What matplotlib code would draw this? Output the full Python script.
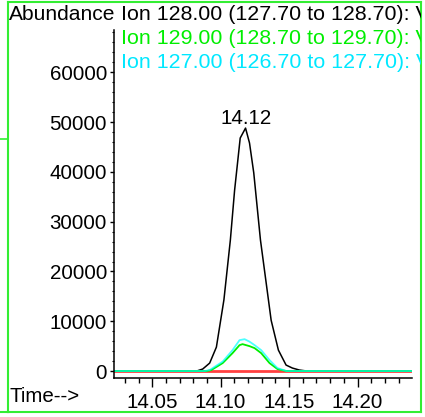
import matplotlib.pyplot as plt
from matplotlib.ticker import MultipleLocator
from matplotlib.lines import Line2D

plt.rcParams['font.family'] = ['Liberation Sans', 'DejaVu Sans']

# extracted ion chromatograms (time in min, abundance)
t_128 = [14.0221, 14.0825, 14.0869, 14.0920, 14.0969, 14.1024, 14.1071, 14.1102,
         14.1143, 14.1182, 14.1211, 14.1242, 14.1291, 14.1369, 14.1422, 14.1478,
         14.1524, 14.1575, 14.1630, 14.2398]
ion_128 = [0, 0, 400, 1600, 4800, 14300, 26300, 36300,
           46800, 48800, 45800, 39800, 26300, 10200, 4200, 1200,
           600, 200, 0, 0]

t_129 = [14.0221, 14.0900, 14.0932, 14.1015, 14.1087, 14.1138, 14.1160, 14.1211,
         14.1248, 14.1296, 14.1357, 14.1415, 14.1480, 14.2398]
ion_129 = [0, 0, 200, 1600, 3600, 5200, 5400, 5000,
           4600, 3600, 1600, 400, 0, 0]

t_127 = [14.0221, 14.0884, 14.0920, 14.1015, 14.1087, 14.1138, 14.1175, 14.1211,
         14.1248, 14.1296, 14.1357, 14.1415, 14.1480, 14.2398]
ion_127 = [0, 0, 200, 1900, 4200, 6200, 6400, 5900,
           5200, 4200, 2200, 600, 0, 0]

t_blank = [14.0221, 14.2398]
blank = [0, 0]

ion_labels = ["Ion 128.00 (127.70 to 128.70): V",
              "Ion 129.00 (128.70 to 129.70): V",
              "Ion 127.00 (126.70 to 127.70): V"]
peak_time = 14.12
peak_height = 48800

W, H = 425, 417
FS = 14.8
fig = plt.figure(figsize=(W / 100, H / 100), dpi=100)

ax = fig.add_axes([114 / W, 1 - 378 / H, (412 - 114) / W, (378 - 30) / H])
ax.patch.set_alpha(0)
ax.plot(t_128, ion_128, color='black', lw=1.1)
ax.plot(t_blank, blank, color='#ff4040', lw=2)
ax.plot(t_129, ion_129, color='#00ee00', lw=1.3)
ax.plot(t_127, ion_127, color='#00ffff', lw=1.3, alpha=0.7)
ax.set_xlim(14.0221, 14.2398)
ax.set_ylim(-1400, 68500)

ax.spines['top'].set_visible(False)
ax.spines['right'].set_visible(False)
ax.spines['left'].set_linewidth(1.1)
ax.spines['bottom'].set_linewidth(1.1)

ax.xaxis.set_major_locator(MultipleLocator(0.05))
ax.xaxis.set_minor_locator(MultipleLocator(0.01))
ax.yaxis.set_major_locator(MultipleLocator(10000))
ax.yaxis.set_minor_locator(MultipleLocator(2000))
ax.xaxis.set_major_formatter(lambda v, p: f"{v:.2f}")
ax.tick_params(axis='x', which='major', length=6.5, width=1, labelsize=FS, pad=4)
ax.tick_params(axis='x', which='minor', length=3.6, width=1)
ax.tick_params(axis='y', which='major', length=3, width=1, labelsize=FS, pad=2)
ax.tick_params(axis='y', which='minor', length=1.5, width=0.8)

# retention time over the apex
ax.text(peak_time - 0.0016, peak_height + 900, f"{peak_time:.2f}", ha='center',
        va='baseline', fontsize=FS)

# green outer frame, also used to clip the header text
frame = fig.add_axes([7.5 / W, 5 / H, 413.5 / W, 410 / H])
frame.set_xlim(0, 1)
frame.set_ylim(0, 1)
frame.set_xticks([])
frame.set_yticks([])
frame.patch.set_alpha(0)
for s in frame.spines.values():
    s.set_color('#33ee33')
    s.set_linewidth(1.5)
fig.add_artist(Line2D([0, 7.5 / W], [1 - 139 / H, 1 - 139 / H], color='#33ee33', lw=1.2))
fig.add_artist(Line2D([0, 7.5 / W], [5 / H, 5 / H], color='#33ee33', lw=1.5))

frame.text((9 - 7.5) / 413.5, 1 - (17 - 5) / 410, "Abundance", fontsize=15.1,
           va='center', ha='left')
for i, (lab, col) in enumerate(zip(ion_labels, ['black', '#00ee00', '#00e8ff'])):
    y = 17 + 24.5 * i
    frame.text((121 - 7.5) / 413.5, 1 - (y - 5) / 410, lab, fontsize=15.4, color=col,
               va='center', ha='left', clip_on=True)
frame.text((9 - 7.5) / 413.5, 1 - (400 - 5) / 410, "Time-->", fontsize=FS,
           va='center', ha='left')

fig.savefig('out.png', dpi=100)
